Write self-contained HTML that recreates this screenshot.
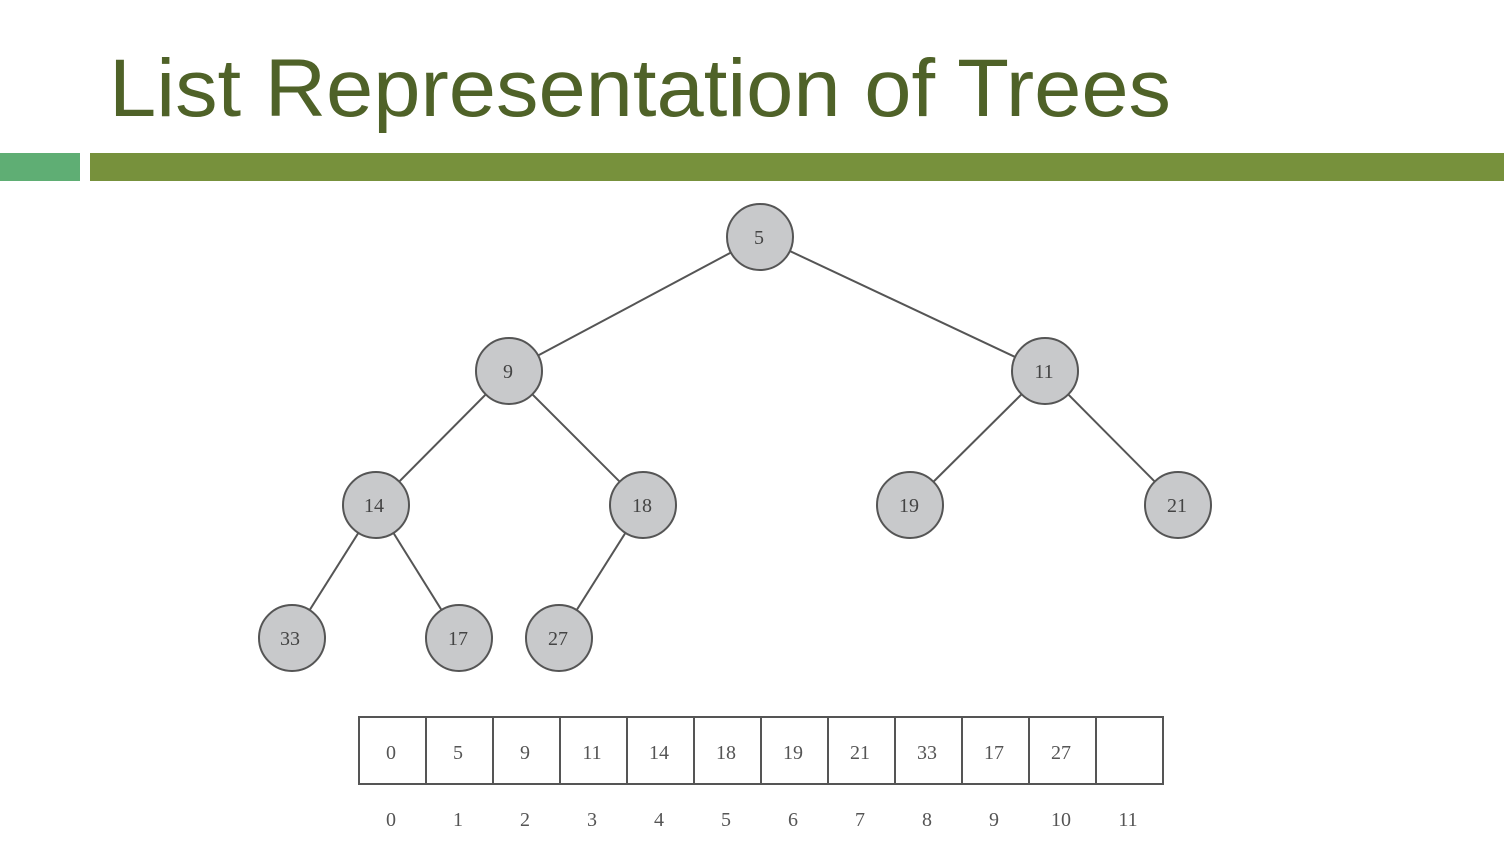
<!DOCTYPE html>
<html><head><style>
body{margin:0;width:1504px;height:843px;background:#fff;overflow:hidden}
</style></head><body>
<svg width="1504" height="843" xmlns="http://www.w3.org/2000/svg" style="font-family:'Liberation Serif',serif">
<text x="109" y="116" font-family="Liberation Sans, sans-serif" font-size="82" fill="#4f6228" textLength="1062" lengthAdjust="spacingAndGlyphs">List Representation of Trees</text>
<rect x="0" y="153" width="80" height="28" fill="#5fae74"/>
<rect x="90" y="153" width="1414" height="28" fill="#77913c"/>
<g stroke="#555" stroke-width="2">
<line x1="760" y1="237" x2="509" y2="371"/><line x1="760" y1="237" x2="1045" y2="371"/>
<line x1="509" y1="371" x2="376" y2="505"/><line x1="509" y1="371" x2="643" y2="505"/>
<line x1="1045" y1="371" x2="910" y2="505"/><line x1="1045" y1="371" x2="1178" y2="505"/>
<line x1="376" y1="505" x2="292" y2="638"/><line x1="376" y1="505" x2="459" y2="638"/>
<line x1="643" y1="505" x2="559" y2="638"/>
</g>
<g fill="#c8c9cb" stroke="#555" stroke-width="2">
<circle cx="760" cy="237" r="33"/><circle cx="509" cy="371" r="33"/><circle cx="1045" cy="371" r="33"/>
<circle cx="376" cy="505" r="33"/><circle cx="643" cy="505" r="33"/><circle cx="910" cy="505" r="33"/><circle cx="1178" cy="505" r="33"/>
<circle cx="292" cy="638" r="33"/><circle cx="459" cy="638" r="33"/><circle cx="559" cy="638" r="33"/>
</g>
<g font-size="20" fill="#444" text-anchor="middle">
<text x="759" y="244">5</text><text x="508" y="378">9</text><text x="1044" y="378">11</text>
<text x="374" y="512">14</text><text x="642" y="512">18</text><text x="909" y="512">19</text><text x="1177" y="512">21</text>
<text x="290" y="645">33</text><text x="458" y="645">17</text><text x="558" y="645">27</text>
</g>
<g fill="none" stroke="#555" stroke-width="2">
<rect x="359" y="717" width="804" height="67"/>
<path d="M426 717V784M493 717V784M560 717V784M627 717V784M694 717V784M761 717V784M828 717V784M895 717V784M962 717V784M1029 717V784M1096 717V784"/>
</g>
<g font-size="20" fill="#555" text-anchor="middle">
<text x="391" y="759">0</text><text x="458" y="759">5</text><text x="525" y="759">9</text><text x="592" y="759">11</text><text x="659" y="759">14</text><text x="726" y="759">18</text><text x="793" y="759">19</text><text x="860" y="759">21</text><text x="927" y="759">33</text><text x="994" y="759">17</text><text x="1061" y="759">27</text>
<text x="391" y="826">0</text><text x="458" y="826">1</text><text x="525" y="826">2</text><text x="592" y="826">3</text><text x="659" y="826">4</text><text x="726" y="826">5</text><text x="793" y="826">6</text><text x="860" y="826">7</text><text x="927" y="826">8</text><text x="994" y="826">9</text><text x="1061" y="826">10</text><text x="1128" y="826">11</text>
</g>
</svg>
</body></html>
